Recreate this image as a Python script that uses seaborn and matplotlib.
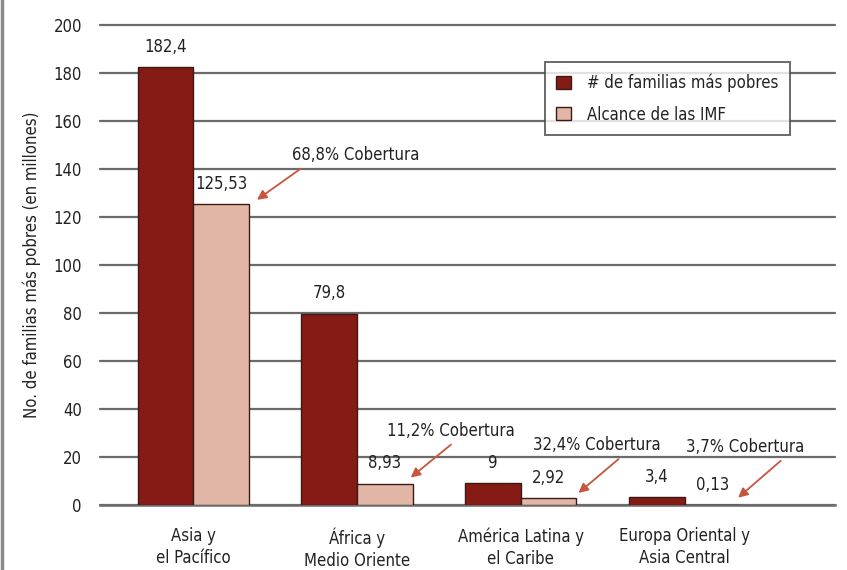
import matplotlib
matplotlib.use("Agg")
import matplotlib.pyplot as plt
import pandas as pd
import seaborn as sns

# data
regions = ["Asia y\nel Pacífico", "África y\nMedio Oriente",
           "América Latina y\nel Caribe", "Europa Oriental y\nAsia Central"]
poorest = [182.4, 79.8, 9, 3.4]
reach = [125.53, 8.93, 2.92, 0.13]
coverage = [68.8, 11.2, 32.4, 3.7]
series = ["# de familias más pobres", "Alcance de las IMF"]

DARK = "#861b16"
LIGHT = "#e2b6a6"
GRID = "#6b6b6b"
TEXT = "#222222"
ARROW = "#c8553d"
FS = 12


def fmt(v):
    return f"{v:g}".replace(".", ",")


def main():
    sns.set_style("white")
    plt.rcParams["font.family"] = ["DejaVu Sans"]
    plt.rcParams["font.stretch"] = "condensed"

    df = pd.DataFrame({
        "region": regions * 2,
        "serie": [series[0]] * len(regions) + [series[1]] * len(regions),
        "valor": poorest + reach,
    })

    fig = plt.figure(figsize=(8.47, 5.70), dpi=100)
    ax = fig.add_axes([0.118, 0.114, 0.868, 0.842])

    sns.barplot(data=df, x="region", y="valor", hue="serie", order=regions,
                palette=[DARK, LIGHT], width=0.68, edgecolor="#3a1a14",
                linewidth=1.0, saturation=1, ax=ax, zorder=3)

    ax.set_ylim(0, 200)
    ax.set_xlim(-0.57, 3.92)
    ax.set_yticks(range(0, 201, 20))
    ax.yaxis.grid(True, color=GRID, linewidth=1.6, zorder=0)
    for gl in ax.get_ygridlines():
        gl.set_clip_on(False)
    ax.set_axisbelow(True)
    for side in ["left", "right", "top"]:
        ax.spines[side].set_visible(False)
    ax.spines["bottom"].set_color(GRID)
    ax.spines["bottom"].set_linewidth(1.8)
    ax.tick_params(axis="both", length=0, labelsize=FS, colors=TEXT)
    ax.tick_params(axis="y", pad=13)
    ax.tick_params(axis="x", pad=16)
    for lbl in ax.get_xticklabels():
        lbl.set_linespacing(1.3)
    ax.set_xlabel("")
    ax.set_ylabel("No. de familias más pobres (en millones)", fontsize=FS,
                  color=TEXT, labelpad=9)

    # value labels above bars
    for cont, vals in zip(ax.containers, [poorest, reach]):
        ax.bar_label(cont, labels=[fmt(v) for v in vals], padding=8,
                     fontsize=FS, color=TEXT)

    # coverage callouts pointing at the top-right corner of the reach bars
    offsets = [(99, 45), (40, 47), (18, 48), (7, 51)]
    tips = [(8, 4), (-2, 6), (2, 5), (-2, 7)]
    relpos = [(0.12, 0.0), (0.55, 0.0), (0.72, 0.0), (0.85, 0.0)]
    for patch, cov, off, tip, rp in zip(ax.containers[1], coverage, offsets, tips, relpos):
        xy = (patch.get_x() + patch.get_width(), patch.get_height())
        ann = ax.annotate(f"{fmt(cov)}% Cobertura", xy=xy, xycoords="data",
                          xytext=off, textcoords="offset pixels",
                          ha="center", va="center", fontsize=FS, color=TEXT,
                          zorder=5, annotation_clip=False,
                          arrowprops=dict(arrowstyle="-|>", color=ARROW, lw=1.3,
                                          mutation_scale=14, relpos=rp,
                                          shrinkA=2, shrinkB=0))
        # nudge the arrow head just off the bar corner
        ann.xy = ax.transData.inverted().transform(
            ax.transData.transform(xy) + tip)

    leg = ax.legend(loc="upper left", bbox_to_anchor=(0.605, 0.923),
                    borderaxespad=0, frameon=True, fancybox=False, fontsize=FS,
                    handlelength=0.85, handleheight=0.85, handletextpad=1.0,
                    borderpad=0.7, labelspacing=0.8, edgecolor="#444444")
    leg.get_frame().set_linewidth(1.4)
    for t in leg.get_texts():
        t.set_color(TEXT)

    fig.add_artist(plt.Line2D([0.002, 0.002], [0, 1], color="#8a8a8a", lw=2.5))

    plt.savefig("out.png", dpi=100)


if __name__ == '__main__':
    main()
